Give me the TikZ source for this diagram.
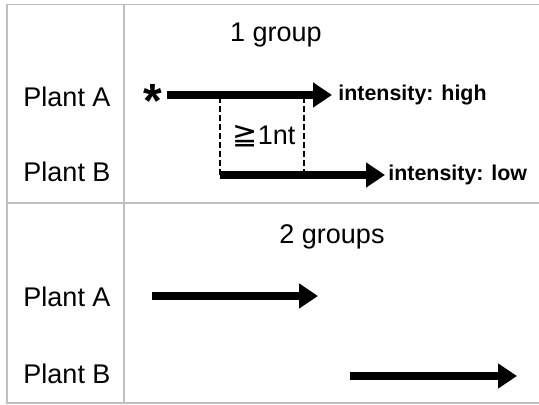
\documentclass[tikz,border=0pt]{standalone}
\usepackage{fontspec}
\setmainfont{Liberation Sans}
\newfontfamily\dejavu{DejaVu Sans}
\usetikzlibrary{arrows.meta,positioning}
\tikzset{
  grid/.style={draw=black!25, line width=0.8pt},
  bar/.style={line width=4pt, -{Triangle[length=9.5pt,width=12pt]}},
  gap/.style={line width=1.2pt, dash pattern=on 3pt off 1.5pt},
  plant/.style={font=\fontsize{13.5}{15}\selectfont, anchor=base, inner sep=0pt},
  tag/.style={font=\fontsize{10.7}{12}\selectfont\bfseries, inner sep=0pt},
}
\begin{document}
\begin{tikzpicture}[x=0.5pt,y=-0.5pt]
\useasboundingbox (0,0) rectangle (539,405);

% table lines
\draw[grid] (539,4.5) -- (7,4.5) -- (7,403) -- (539,403);
\draw[grid] (124,4.5) -- (124,403);
\draw[grid] (7,203) -- (539,203);

% row labels and titles
\node[plant] (pa1) at (67,107) {Plant A};
\node[plant] (pb1) at (67,182) {Plant B};
\node[plant] (g1) at (276,42) {1 group};
\node[plant] (pa2) at (67,306) {Plant A};
\node[plant] (pb2) at (67,383) {Plant B};
\node[plant] (g2) at (332,243) {2 groups};

% 1 group
\coordinate (a1) at (167,95);
\coordinate (a2) at (332,95);
\coordinate (b1) at (220,175);
\coordinate (b2) at (385,175);
\coordinate (d1) at (304,175);
\draw[gap] (b1) -- (b1 |- a1);
\draw[gap] (d1) -- (d1 |- a1);
\draw[bar] (a1) -- (a2);
\draw[bar] (b1) -- (b2);
\node[anchor=north east, inner sep=0pt, font=\fontsize{24}{26}\selectfont\bfseries] (star) at (163,84) {*};
\node[tag, right=3pt of a2] (high) {intensity: high};
\node[tag, right=1.5pt of b2] (low) {intensity: low};
\node[plant, anchor=center] (min) at (264,136) {{\dejavu\fontsize{15}{16}\selectfont ≧}1nt};

% 2 groups
\coordinate (c1) at (152,296);
\coordinate (c2) at (318,296);
\coordinate (e1) at (350,376);
\coordinate (e2) at (517,376);
\draw[bar] (c1) -- (c2);
\draw[bar] (e1) -- (e2);

\end{tikzpicture}
\end{document}
